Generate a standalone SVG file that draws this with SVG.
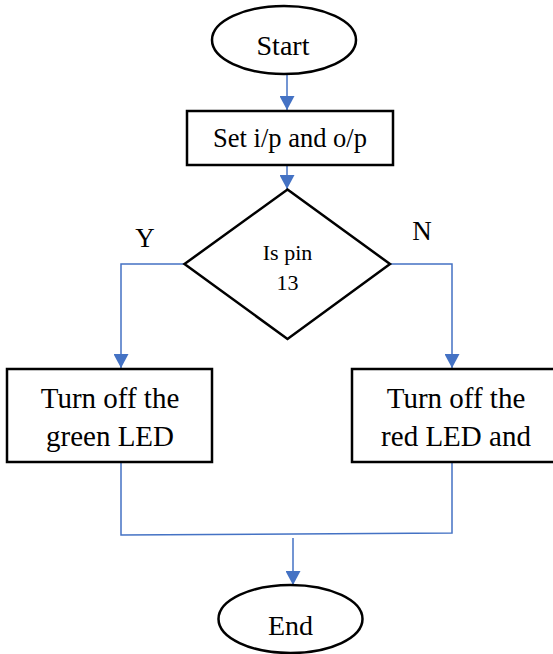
<svg xmlns="http://www.w3.org/2000/svg" width="553" height="654" viewBox="0 0 553 654">
<defs>
<style>
.shape{fill:#fff;stroke:#000;stroke-width:2.5}
.txt{font-family:'Liberation Serif','DejaVu Serif',serif;fill:#000;text-anchor:middle}
.conn{fill:none;stroke:#4472C4;stroke-width:1.5}
</style>
<marker id="arr" viewBox="0 0 14 15" refX="14" refY="7.5" markerWidth="14" markerHeight="15" markerUnits="userSpaceOnUse" orient="auto">
<path d="M0,0 L14,7.5 L0,15 Z" fill="#4472C4"/>
</marker>
</defs>
<rect width="553" height="654" fill="#fff"/>
<g id="connectors">
<line class="conn" x1="287" y1="74" x2="287" y2="110" marker-end="url(#arr)"/>
<line class="conn" x1="287" y1="165" x2="287" y2="189" marker-end="url(#arr)"/>
<polyline class="conn" points="184,264 121,264 121,368" marker-end="url(#arr)"/>
<polyline class="conn" points="390,264 452,264 452,368" marker-end="url(#arr)"/>
<polyline class="conn" points="121,463 121,535 452,533 452,463"/>
<line class="conn" x1="293" y1="538" x2="293" y2="585" marker-end="url(#arr)"/>
</g>
<g id="start">
<ellipse class="shape" cx="284" cy="40" rx="72" ry="34"/>
<text class="txt" x="283" y="55" font-size="28">Start</text>
</g>
<g id="setio">
<rect class="shape" x="187" y="111" width="206" height="54"/>
<text class="txt" x="290" y="147" font-size="26.5">Set i/p and o/p</text>
</g>
<g id="decision">
<polygon class="shape" points="287.5,189.5 390,264 287.5,339 184.5,264"/>
<text class="txt" x="287.5" y="260" font-size="22">Is pin</text>
<text class="txt" x="287.5" y="290" font-size="22">13</text>
</g>
<g id="labelY"><text class="txt" x="145" y="247" font-size="27">Y</text></g>
<g id="labelN"><text class="txt" x="422" y="240" font-size="27">N</text></g>
<g id="greenbox">
<rect class="shape" x="7" y="369" width="205" height="93"/>
<text class="txt" x="110" y="408" font-size="29">Turn off the</text>
<text class="txt" x="110" y="446" font-size="29">green LED</text>
</g>
<g id="redbox">
<rect class="shape" x="352" y="369" width="205" height="93"/>
<text class="txt" x="456" y="408" font-size="29">Turn off the</text>
<text class="txt" x="456" y="446" font-size="29">red LED and</text>
</g>
<g id="end">
<ellipse class="shape" cx="290.5" cy="619" rx="72" ry="34"/>
<text class="txt" x="290.5" y="635" font-size="28">End</text>
</g>
</svg>
